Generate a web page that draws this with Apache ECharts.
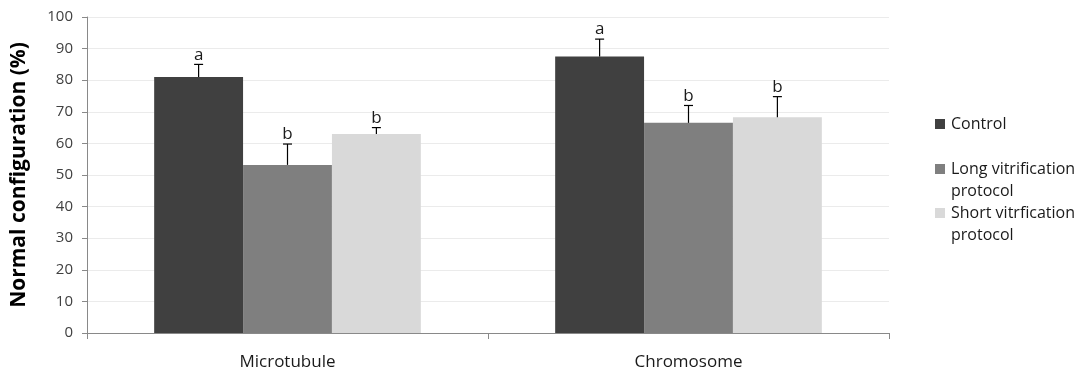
<!DOCTYPE html>
<html>
<head>
<meta charset="utf-8">
<script src="https://cdn.jsdelivr.net/npm/echarts@6/dist/echarts.min.js"></script>
<style>html,body{margin:0;padding:0;background:#fff}#c{width:1086px;height:371px}</style>
</head>
<body>
<div id="c"></div>
<script>
var categories = ['Microtubule', 'Chromosome'];
var seriesNames = ['Control', 'Long vitrification\nprotocol', 'Short vitrfication\nprotocol'];
var controlValues = [81, 87.5];
var controlErrors = [4, 5.5];
var controlLetters = ['a', 'a'];
var longValues = [53.2, 66.5];
var longErrors = [6.6, 5.5];
var longLetters = ['b', 'b'];
var shortValues = [63, 68.3];
var shortErrors = [2, 6.5];
var shortLetters = ['b', 'b'];
var yTicks = [0, 100, 10];

var colors = ['#404040', '#7f7f7f', '#d9d9d9'];
var FONT = '"Open Sans", sans-serif';
var groups = [
  {name: seriesNames[0], v: controlValues, e: controlErrors, l: controlLetters},
  {name: seriesNames[1], v: longValues, e: longErrors, l: longLetters},
  {name: seriesNames[2], v: shortValues, e: shortErrors, l: shortLetters}
];
var CAT_GAP = 0.335;

var series = [];
groups.forEach(function (g, gi) {
  series.push({
    name: g.name, type: 'bar', data: g.v, barGap: '0%', barCategoryGap: (CAT_GAP * 100) + '%',
    itemStyle: {color: colors[gi]}, z: 2
  });
});
groups.forEach(function (g, gi) {
  series.push({
    type: 'custom', name: 'err' + gi, z: 5, silent: true,
    data: g.v.map(function (v, i) { return [i, v, g.e[i], g.l[i]]; }),
    renderItem: function (params, api) {
      var ci = api.value(0), v = api.value(1), e = api.value(2);
      var band = api.size([1, 0])[0];
      var bw = band * (1 - CAT_GAP) / 3;
      var base = api.coord([ci, v]);
      var top = api.coord([ci, v + e]);
      var x = base[0] + (gi - 1) * bw;
      var letter = groups[gi].l[ci];
      return {
        type: 'group',
        children: [
          {type: 'line', shape: {x1: x, y1: base[1], x2: x, y2: top[1]}, style: {stroke: '#000', lineWidth: 1.2}},
          {type: 'line', shape: {x1: x - 4.5, y1: top[1], x2: x + 4.5, y2: top[1]}, style: {stroke: '#000', lineWidth: 1.2}},
          {type: 'text', x: x, y: top[1] - 1, style: {text: letter, fill: '#1a1a1a', font: '17px ' + FONT, align: 'center', verticalAlign: 'bottom'}}
        ]
      };
    }
  });
});

function legendFor(i, top) {
  return {
    data: [seriesNames[i]], left: 935, top: top, orient: 'vertical',
    itemWidth: 10, itemHeight: 10, itemGap: 0, padding: 0, icon: 'rect',
    selectedMode: false,
    formatter: function (n) { return n.indexOf('\n') >= 0 ? ' \n' + n : n; },
    textStyle: {fontFamily: FONT, fontSize: 16, color: '#1a1a1a', lineHeight: 22, padding: [0, 0, 0, 1]}
  };
}

var chart = echarts.init(document.getElementById('c'));
chart.setOption({
  animation: false,
  color: colors,
  grid: {left: 87, right: 197, top: 17, bottom: 38},
  legend: [legendFor(0, 113), legendFor(1, 136), legendFor(2, 180)],
  xAxis: {
    type: 'category', data: categories,
    axisLine: {lineStyle: {color: '#898989'}},
    axisTick: {show: true, alignWithLabel: false, length: 6, lineStyle: {color: '#898989'}},
    axisLabel: {fontFamily: FONT, fontSize: 17, color: '#1a1a1a', margin: 21}
  },
  yAxis: {
    type: 'value', min: yTicks[0], max: yTicks[1], interval: yTicks[2],
    name: 'Normal configuration (%)', nameLocation: 'middle', nameGap: 57,
    nameTextStyle: {fontFamily: FONT, fontSize: 21, fontWeight: 'bold', color: '#000'},
    axisLine: {show: true, lineStyle: {color: '#898989'}},
    axisTick: {show: true, length: 5, lineStyle: {color: '#898989'}},
    axisLabel: {fontFamily: FONT, fontSize: 15, color: '#404040', margin: 14},
    splitLine: {lineStyle: {color: '#ebebeb'}}
  },
  series: series
});
</script>
</body>
</html>
